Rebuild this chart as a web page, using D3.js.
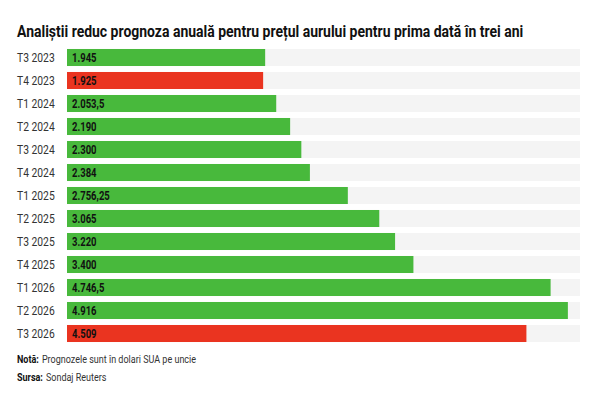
<html>
<script src="https://d3js.org/d3.v7.min.js"></script>
<meta charset="UTF-8">
<style>
    body { margin: 0; background: #fff; }
    text { font-family: Roboto, "Noto Sans", sans-serif; }
</style>
<body>
    <svg width="600" height="400" id="canvas"></svg>
</body>
<script>
    // quarters and gold forecasts (USD / oz)
    var quarters = ["T3 2023", "T4 2023", "T1 2024", "T2 2024", "T3 2024", "T4 2024",
        "T1 2025", "T2 2025", "T3 2025", "T4 2025", "T1 2026", "T2 2026", "T3 2026"];
    var forecasts = [1945, 1925, 2053.5, 2190, 2300, 2384, 2756.25, 3065, 3220, 3400, 4746.5, 4916, 4509];
    var lowered = ["T4 2023", "T3 2026"];
    var xMax = 5035;

    var title = "Analiștii reduc prognoza anuală pentru prețul aurului pentru prima dată în trei ani";

    var data = quarters.map(function (q, i) { return { q: q, v: forecasts[i] }; });

    var svg = d3.select("#canvas");

    var ro = d3.formatLocale({ decimal: ",", thousands: ".", grouping: [3], currency: ["", ""] });
    var fmt = ro.format(",.2~f");

    var xScale = d3.scaleLinear().domain([0, xMax]).range([67, 580]);
    var yScale = d3.scaleBand().domain(quarters).range([46, 345])
        .paddingInner(0.26).paddingOuter(0.13);

    // the original uses a condensed face: draw at (x,y) and squeeze horizontally
    function narrow(sel, k) {
        sel.each(function () {
            var t = d3.select(this);
            var x = +t.attr("x"), y = +t.attr("y");
            t.attr("x", 0).attr("y", 0)
                .attr("transform", "translate(" + x + "," + y + ") scale(" + k + ",1)");
        });
    }

    var tt = svg.append("text")
        .attr("x", 17).attr("y", 37)
        .attr("font-size", 17).attr("font-weight", "bold").attr("fill", "#111")
        .text(title);
    narrow(tt, 507 / tt.node().getComputedTextLength());

    var g = svg.append("g");

    // background tracks
    g.selectAll(".track")
        .data(data)
        .enter().append("rect")
        .attr("class", "track")
        .attr("x", xScale(0))
        .attr("y", function (d) { return yScale(d.q); })
        .attr("width", xScale(xMax) - xScale(0))
        .attr("height", yScale.bandwidth())
        .attr("fill", "#f4f4f4");

    g.selectAll(".bar")
        .data(data)
        .enter().append("rect")
        .attr("class", "bar")
        .attr("x", xScale(0))
        .attr("y", function (d) { return yScale(d.q); })
        .attr("width", function (d) { return xScale(d.v) - xScale(0); })
        .attr("height", yScale.bandwidth())
        .attr("fill", function (d) { return lowered.indexOf(d.q) >= 0 ? "#ea3420" : "#48b93c"; });

    g.selectAll(".cat")
        .data(data)
        .enter().append("text")
        .attr("class", "cat")
        .attr("x", 17)
        .attr("y", function (d) { return yScale(d.q) + yScale.bandwidth() / 2 + 4.3; })
        .attr("font-size", 12).attr("fill", "#333")
        .text(function (d) { return d.q; })
        .call(narrow, 0.86);

    g.selectAll(".val")
        .data(data)
        .enter().append("text")
        .attr("class", "val")
        .attr("x", xScale(0) + 5)
        .attr("y", function (d) { return yScale(d.q) + yScale.bandwidth() / 2 + 4.5; })
        .attr("font-size", 12.5).attr("font-weight", "bold").attr("fill", "#111")
        .text(function (d) { return fmt(d.v); })
        .call(narrow, 0.76);

    // footnotes: bold lead-in + regular text
    var notes = [["Notă:", "Prognozele sunt în dolari SUA pe uncie", 363],
                 ["Sursa:", "Sondaj Reuters", 381]];
    notes.forEach(function (n) {
        var b = svg.append("text").attr("x", 17).attr("y", n[2])
            .attr("font-size", 11).attr("font-weight", "bold").attr("fill", "#111")
            .text(n[0]);
        var bw = b.node().getComputedTextLength() * 0.82;
        narrow(b, 0.82);
        var r = svg.append("text").attr("x", 17 + bw + 3).attr("y", n[2])
            .attr("font-size", 11).attr("fill", "#333")
            .text(n[1]);
        narrow(r, 0.82);
    });
</script>
</html>
